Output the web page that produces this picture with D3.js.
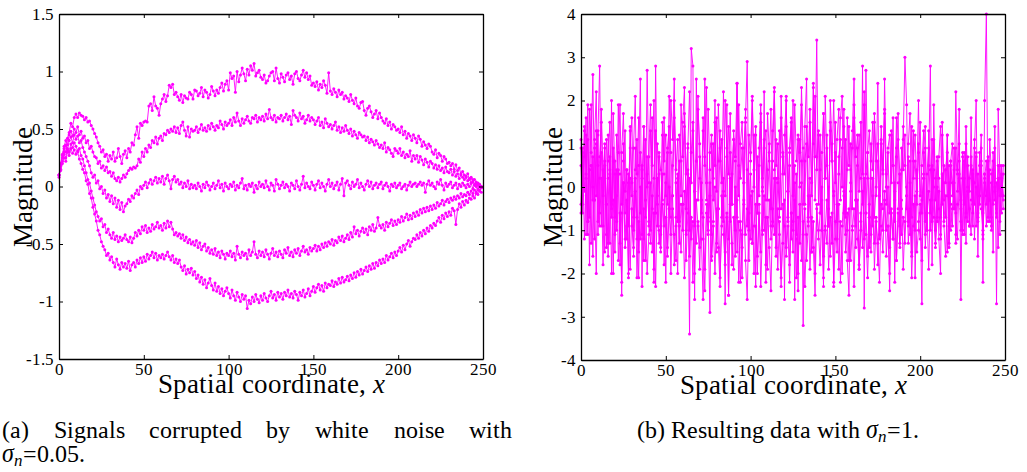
<!DOCTYPE html>
<html>
<head>
<meta charset="utf-8">
<script src="https://cdn.jsdelivr.net/npm/d3@7"></script>
<style>
@font-face { font-family: "PlotSerif"; src: local("Liberation Serif"), local("LiberationSerif"), local("LiberationSerif-Regular"); font-style: normal; }
@font-face { font-family: "PlotSerif"; src: local("Liberation Serif Italic"), local("LiberationSerif-Italic"); font-style: italic; }
body { margin: 0; background: #fff; }
</style>
</head>
<body>
<svg id="chart" width="1027" height="472"></svg>
<script>
// left panel: five signals with small noise (x = 0..249)
const sigA = [0.08,0.18,0.27,0.33,0.30,0.42,0.47,0.55,0.52,0.60,
  0.63,0.60,0.64,0.62,0.61,0.58,0.60,0.56,0.57,0.53,
  0.50,0.46,0.43,0.38,0.35,0.30,0.32,0.26,0.28,0.22,
  0.27,0.24,0.30,0.22,0.25,0.33,0.26,0.20,0.28,0.31,
  0.25,0.33,0.30,0.38,0.36,0.45,0.52,0.42,0.55,0.53,
  0.56,0.57,0.56,0.70,0.72,0.66,0.78,0.70,0.68,0.62,
  0.72,0.76,0.80,0.74,0.79,0.88,0.86,0.89,0.80,0.82,
  0.78,0.75,0.80,0.73,0.79,0.77,0.76,0.82,0.80,0.76,
  0.84,0.83,0.79,0.81,0.86,0.78,0.84,0.82,0.77,0.80,
  0.87,0.83,0.79,0.84,0.81,0.86,0.90,0.83,0.89,0.92,
  0.84,0.99,0.94,0.96,0.82,1.00,0.91,0.97,1.03,0.98,
  0.92,1.02,0.97,1.05,1.01,1.07,0.96,0.99,1.01,0.95,
  0.93,0.97,0.90,0.92,0.96,0.99,1.00,0.92,1.03,0.94,
  0.90,0.98,0.95,0.91,0.97,0.99,0.93,0.96,0.89,0.98,
  1.00,0.94,0.92,0.97,1.01,0.95,0.99,0.93,0.96,0.88,
  0.90,0.87,0.91,0.84,0.89,0.86,0.92,0.88,0.81,0.99,
  0.83,0.80,0.85,0.82,0.78,0.84,0.80,0.82,0.76,0.79,
  0.77,0.74,0.80,0.75,0.72,0.77,0.70,0.68,0.73,0.74,
  0.66,0.62,0.68,0.70,0.65,0.60,0.63,0.66,0.59,0.64,
  0.60,0.57,0.55,0.59,0.53,0.56,0.50,0.54,0.52,0.49,
  0.50,0.47,0.52,0.45,0.48,0.42,0.46,0.44,0.40,0.45,
  0.42,0.38,0.44,0.41,0.35,0.39,0.36,0.33,0.37,0.35,
  0.30,0.28,0.32,0.25,0.29,0.27,0.22,0.26,0.24,0.20,
  0.21,0.18,0.20,0.15,0.19,0.14,0.16,0.11,0.13,0.10,
  0.09,0.11,0.06,0.08,0.04,0.06,0.02,0.03,0.00,-0.01];

const sigB = [0.10,0.20,0.28,0.35,0.40,0.36,0.45,0.48,0.44,0.50,
  0.47,0.52,0.45,0.48,0.42,0.44,0.38,0.40,0.33,0.35,
  0.30,0.26,0.25,0.20,0.22,0.16,0.18,0.14,0.17,0.12,
  0.13,0.09,0.12,0.07,0.05,0.08,0.04,0.07,0.10,0.08,
  0.11,0.14,0.16,0.15,0.17,0.16,0.18,0.24,0.21,0.30,
  0.26,0.33,0.30,0.36,0.34,0.40,0.38,0.43,0.37,0.42,
  0.44,0.40,0.46,0.45,0.49,0.47,0.50,0.48,0.52,0.47,
  0.51,0.46,0.53,0.56,0.49,0.44,0.52,0.43,0.50,0.48,
  0.49,0.52,0.47,0.50,0.54,0.49,0.51,0.48,0.53,0.50,
  0.55,0.52,0.49,0.53,0.51,0.57,0.54,0.50,0.56,0.53,
  0.55,0.58,0.53,0.60,0.56,0.64,0.57,0.53,0.59,0.55,
  0.58,0.61,0.57,0.55,0.60,0.59,0.62,0.56,0.60,0.58,
  0.61,0.57,0.63,0.59,0.67,0.60,0.58,0.62,0.56,0.60,
  0.59,0.62,0.57,0.60,0.63,0.58,0.61,0.54,0.66,0.62,
  0.60,0.57,0.64,0.59,0.61,0.55,0.58,0.62,0.57,0.60,
  0.58,0.54,0.57,0.60,0.53,0.56,0.51,0.59,0.55,0.52,
  0.54,0.50,0.53,0.56,0.49,0.52,0.47,0.51,0.48,0.53,
  0.49,0.46,0.50,0.44,0.48,0.45,0.42,0.47,0.45,0.43,
  0.44,0.40,0.43,0.38,0.41,0.39,0.36,0.40,0.37,0.34,
  0.36,0.33,0.38,0.30,0.34,0.32,0.29,0.26,0.33,0.31,
  0.29,0.33,0.27,0.30,0.25,0.28,0.26,0.31,0.22,0.27,
  0.24,0.27,0.21,0.26,0.23,0.19,0.24,0.21,0.17,0.22,
  0.20,0.16,0.19,0.15,0.18,0.14,0.16,0.12,0.17,0.13,
  0.12,0.15,0.10,0.13,0.09,0.11,0.07,0.10,0.08,0.06,
  0.08,0.05,0.07,0.03,0.06,0.02,0.04,0.01,0.02,0.00];

const sigC = [0.10,0.18,0.25,0.30,0.36,0.32,0.40,0.43,0.38,0.45,
  0.41,0.44,0.38,0.40,0.34,0.30,0.26,0.22,0.18,0.12,
  0.08,0.10,0.03,0.05,-0.02,0.00,-0.06,-0.03,-0.10,-0.07,
  -0.13,-0.08,-0.15,-0.10,-0.18,-0.12,-0.20,-0.14,-0.22,-0.17,
  -0.15,-0.11,-0.13,-0.08,-0.10,-0.06,-0.03,-0.07,0.00,-0.02,
  0.01,0.04,-0.01,0.03,0.06,0.02,0.05,0.08,0.03,0.07,
  0.04,0.09,0.02,0.07,0.10,0.05,-0.02,0.06,0.09,0.04,
  0.06,0.02,0.04,-0.01,0.03,0.00,0.05,-0.02,0.02,-0.01,
  0.01,-0.02,0.03,0.00,-0.04,0.02,-0.01,0.04,0.01,-0.03,
  0.00,0.03,-0.02,0.01,0.05,-0.01,0.02,-0.04,0.03,0.00,
  -0.02,0.02,0.00,0.04,-0.03,0.01,-0.01,0.03,0.07,-0.02,
  0.01,-0.03,0.02,0.00,0.03,-0.05,0.01,-0.02,0.04,0.00,
  0.02,-0.01,0.05,0.00,-0.03,0.03,0.01,-0.04,0.06,0.02,
  -0.02,0.01,0.04,-0.01,0.02,0.00,-0.04,0.03,0.01,-0.02,
  0.05,0.00,-0.03,0.02,0.09,-0.01,0.03,0.00,-0.02,0.04,
  0.01,-0.03,0.02,0.05,-0.01,0.03,0.00,-0.04,0.02,0.06,
  0.00,0.03,-0.02,0.01,0.04,-0.03,0.02,0.07,-0.08,0.03,
  0.05,0.01,-0.02,0.04,0.00,0.02,0.06,-0.01,0.03,0.00,
  -0.03,0.02,0.05,0.00,0.04,-0.02,0.01,0.03,-0.01,0.02,
  0.04,-0.02,0.01,0.03,0.00,-0.04,0.02,0.00,0.03,-0.01,
  0.01,0.03,-0.02,0.00,0.02,-0.03,0.01,0.04,0.00,0.02,
  0.03,0.00,0.02,0.04,0.01,0.03,-0.05,0.02,0.05,0.01,
  0.03,0.00,-0.02,0.04,0.02,0.06,0.01,-0.03,0.03,0.00,
  0.02,0.04,-0.01,0.01,0.03,-0.02,0.02,0.00,0.03,0.01,
  -0.01,0.02,0.00,0.03,-0.02,0.01,0.00,-0.03,0.01,0.00];

const sigD = [0.10,0.15,0.22,0.28,0.25,0.33,0.30,0.37,0.34,0.38,
  0.35,0.31,0.33,0.27,0.24,0.18,0.12,0.06,0.03,-0.04,
  -0.10,-0.16,-0.22,-0.26,-0.30,-0.28,-0.35,-0.33,-0.40,-0.37,
  -0.42,-0.45,-0.40,-0.46,-0.43,-0.48,-0.44,-0.47,-0.45,-0.42,
  -0.46,-0.48,-0.44,-0.49,-0.45,-0.40,-0.43,-0.38,-0.41,-0.35,
  -0.38,-0.34,-0.40,-0.36,-0.39,-0.33,-0.37,-0.35,-0.31,-0.36,
  -0.34,-0.38,-0.32,-0.36,-0.30,-0.35,-0.31,-0.37,-0.42,-0.40,
  -0.43,-0.41,-0.45,-0.42,-0.47,-0.44,-0.49,-0.46,-0.50,-0.48,
  -0.51,-0.47,-0.53,-0.49,-0.55,-0.52,-0.50,-0.56,-0.53,-0.58,
  -0.55,-0.59,-0.54,-0.60,-0.57,-0.62,-0.56,-0.59,-0.63,-0.58,
  -0.60,-0.56,-0.61,-0.58,-0.64,-0.52,-0.59,-0.62,-0.57,-0.60,
  -0.58,-0.63,-0.55,-0.60,-0.57,-0.48,-0.59,-0.62,-0.56,-0.60,
  -0.57,-0.61,-0.55,-0.59,-0.63,-0.58,-0.54,-0.60,-0.57,-0.61,
  -0.56,-0.59,-0.62,-0.55,-0.58,-0.53,-0.60,-0.57,-0.61,-0.55,
  -0.58,-0.54,-0.60,-0.56,-0.52,-0.57,-0.55,-0.59,-0.53,-0.56,
  -0.54,-0.51,-0.56,-0.52,-0.55,-0.50,-0.53,-0.49,-0.52,-0.48,
  -0.50,-0.46,-0.51,-0.47,-0.49,-0.44,-0.47,-0.43,-0.48,-0.45,
  -0.42,-0.46,-0.40,-0.44,-0.35,-0.41,-0.38,-0.43,-0.39,-0.36,
  -0.40,-0.37,-0.42,-0.35,-0.38,-0.33,-0.39,-0.36,-0.27,-0.34,
  -0.36,-0.33,-0.38,-0.31,-0.35,-0.32,-0.29,-0.34,-0.30,-0.33,
  -0.29,-0.31,-0.26,-0.30,-0.27,-0.24,-0.29,-0.25,-0.28,-0.23,
  -0.26,-0.22,-0.25,-0.20,-0.23,-0.19,-0.22,-0.18,-0.21,-0.17,
  -0.20,-0.16,-0.19,-0.14,-0.17,-0.15,-0.12,-0.16,-0.13,-0.11,
  -0.14,-0.10,-0.12,-0.09,-0.11,-0.08,-0.10,-0.06,-0.09,-0.07,
  -0.08,-0.05,-0.07,-0.04,-0.06,-0.03,-0.05,-0.02,-0.03,-0.01];

const sigE = [0.10,0.14,0.20,0.25,0.22,0.30,0.27,0.33,0.29,0.32,
  0.28,0.30,0.24,0.20,0.15,0.12,0.05,0.02,-0.06,-0.10,
  -0.18,-0.24,-0.30,-0.38,-0.42,-0.48,-0.52,-0.55,-0.60,-0.58,
  -0.64,-0.61,-0.66,-0.70,-0.63,-0.68,-0.72,-0.66,-0.70,-0.67,
  -0.71,-0.65,-0.73,-0.68,-0.66,-0.70,-0.64,-0.67,-0.62,-0.66,
  -0.61,-0.65,-0.59,-0.63,-0.60,-0.57,-0.62,-0.58,-0.64,-0.60,
  -0.62,-0.59,-0.63,-0.60,-0.57,-0.61,-0.64,-0.60,-0.66,-0.63,
  -0.67,-0.64,-0.70,-0.73,-0.69,-0.76,-0.72,-0.75,-0.71,-0.77,
  -0.74,-0.80,-0.77,-0.83,-0.79,-0.85,-0.81,-0.88,-0.84,-0.80,
  -0.86,-0.90,-0.84,-0.91,-0.87,-0.93,-0.89,-0.95,-0.91,-0.88,
  -0.93,-0.97,-0.90,-0.95,-0.99,-0.92,-0.96,-1.00,-0.94,-0.98,
  -0.95,-1.06,-0.99,-1.02,-0.96,-1.00,-0.94,-0.98,-1.01,-0.95,
  -0.99,-0.93,-0.97,-1.00,-0.95,-0.91,-0.97,-0.94,-0.99,-0.92,
  -0.96,-0.93,-0.98,-0.92,-0.95,-0.90,-0.96,-0.93,-0.97,-0.91,
  -0.94,-0.99,-0.92,-0.95,-0.90,-0.96,-0.93,-0.89,-0.95,-0.91,
  -0.87,-0.92,-0.88,-0.85,-0.90,-0.86,-0.91,-0.84,-0.88,-0.85,
  -0.86,-0.82,-0.87,-0.83,-0.85,-0.80,-0.84,-0.79,-0.83,-0.81,
  -0.78,-0.82,-0.77,-0.80,-0.75,-0.79,-0.74,-0.77,-0.72,-0.76,
  -0.73,-0.70,-0.74,-0.69,-0.72,-0.67,-0.71,-0.66,-0.69,-0.64,
  -0.67,-0.63,-0.66,-0.60,-0.64,-0.61,-0.58,-0.62,-0.57,-0.60,
  -0.56,-0.53,-0.57,-0.51,-0.55,-0.50,-0.47,-0.52,-0.48,-0.45,
  -0.46,-0.42,-0.45,-0.40,-0.43,-0.38,-0.41,-0.36,-0.39,-0.34,
  -0.36,-0.32,-0.34,-0.30,-0.27,-0.31,-0.25,-0.28,-0.23,-0.26,
  -0.22,-0.25,-0.19,-0.21,-0.33,-0.20,-0.15,-0.18,-0.13,-0.16,
  -0.12,-0.14,-0.10,-0.11,-0.08,-0.10,-0.06,-0.07,-0.04,-0.05];

// right panel: the five signals after heavy noise (sigma_n = 1)
const noisy1 = [0.5,-0.4,1.3,-1.1,1.9,-1.8,0.8,2.6,-0.3,-2.0,
  1.2,2.8,-0.9,0.4,-1.5,1.1,0.2,-1.3,2.0,-2.0,
  0.6,-0.8,1.9,0.3,-2.5,1.0,-0.6,0.4,-2.1,1.3,
  -0.2,0.9,2.1,-1.2,0.5,2.5,-2.3,1.4,-0.7,2.7,
  0.1,-1.0,1.6,-2.2,2.8,-0.4,0.7,-1.4,1.2,0.3,
  -2.2,0.8,-0.5,2.0,1.1,2.5,-0.9,-2.0,0.6,-0.2,
  1.5,2.3,-1.1,0.4,-3.4,3.2,2.8,-2.6,2.5,-0.3,
  0.7,-1.2,-2.6,2.5,0.1,-0.8,-2.9,1.0,-0.3,2.0,
  -1.5,0.6,1.3,-0.7,0.2,-2.7,1.9,-2.5,0.8,-0.4,
  1.1,-1.6,2.4,0.5,-1.0,-2.1,0.9,1.6,2.9,-0.6,
  0.3,-1.3,1.2,-2.3,0.7,-0.2,1.5,-1.1,2.2,-2.2,
  0.4,1.0,-0.9,0.6,2.3,-1.4,0.1,1.3,-0.5,0.8,
  -2.6,2.1,-0.7,0.5,-1.2,2.0,-2.6,0.3,-2.4,1.1,
  0.6,-3.2,1.4,2.5,-0.8,0.2,-1.5,2.4,0.7,3.4,
  -0.4,1.2,-1.0,-2.3,2.1,0.5,-0.9,2.0,1.0,-2.3,
  0.8,-1.2,0.3,1.6,2.1,-0.6,1.1,-1.7,-2.5,0.4,
  1.3,2.5,-0.3,0.9,-1.9,-1.0,2.8,-2.8,2.7,0.2,
  -1.4,0.6,1.5,-0.7,0.0,2.4,-1.1,1.0,-0.5,2.5,
  0.3,-0.9,-2.4,1.2,0.5,-2.2,0.9,1.7,-1.3,0.4,
  1.1,3.0,1.9,-0.8,0.6,-1.5,1.3,-2.1,0.2,2.0,
  -0.6,-2.7,0.8,1.4,-1.0,0.5,2.8,-1.8,1.9,-0.3,
  0.7,-1.2,-2.0,1.5,0.1,-0.7,1.2,-1.4,0.6,1.0,
  -0.5,2.2,0.3,1.8,-2.6,0.8,-1.1,1.4,0.0,-0.9,
  1.6,-0.4,0.9,2.0,-1.6,0.5,1.2,-2.2,2.0,4.0,
  -0.8,1.1,0.3,-1.5,1.4,-2.7,1.8,0.2,-0.6,0.5];

const noisy2 = [0.9,-0.6,1.4,0.2,-1.1,1.8,0.5,-0.3,1.1,2.2,
  -0.8,0.7,1.5,-0.2,0.9,-1.4,1.2,0.4,-0.5,1.7,
  0.3,-1.0,0.8,1.9,-0.4,0.6,1.3,-1.2,0.1,0.9,
  1.6,-0.7,0.4,1.1,-1.5,0.8,0.2,1.4,-0.3,0.7,
  -0.9,1.3,0.5,2.0,-0.6,1.0,0.3,-1.1,1.5,0.6,
  1.2,-0.4,2.1,0.8,-0.2,1.6,0.4,1.1,-0.8,1.9,
  0.7,1.4,-0.5,0.9,2.2,0.1,1.3,-0.9,0.6,1.8,
  1.0,-0.3,1.6,0.5,2.3,-0.7,0.8,1.2,0.2,1.5,
  -0.1,1.9,0.6,1.1,-0.8,2.0,0.9,0.3,1.7,-0.4,
  1.3,0.7,2.4,-0.2,1.0,1.5,0.1,1.8,-0.9,1.2,
  0.6,2.1,0.4,1.4,-0.6,0.9,1.9,0.2,1.1,-0.3,
  1.7,0.8,-0.5,1.3,2.2,0.5,1.0,-0.7,1.6,0.3,
  1.2,2.0,-0.1,0.8,1.5,-0.8,1.9,0.6,1.1,0.0,
  2.3,0.9,-0.4,1.4,0.7,1.8,-0.2,1.0,2.1,0.4,
  1.3,-0.6,0.8,1.7,0.2,1.2,-0.9,1.5,0.6,2.0,
  0.1,1.1,1.8,-0.3,0.9,1.4,-0.7,1.6,0.5,1.0,
  -0.5,1.9,0.7,1.2,-0.1,1.5,0.3,2.2,-0.6,0.8,
  1.3,0.2,-0.9,1.7,0.6,1.0,-0.2,1.4,0.4,1.8,
  -0.4,0.9,1.2,0.1,1.6,-0.8,0.7,1.1,0.3,-0.5,
  1.4,0.5,-0.2,1.0,1.7,-0.7,0.6,1.2,-0.1,0.8,
  1.5,-0.6,0.3,0.9,-1.0,1.3,0.4,-0.3,1.1,0.2,
  -0.8,0.7,1.4,-0.4,0.5,0.1,1.2,-0.9,0.6,-0.2,
  0.9,-1.1,0.4,1.0,-0.5,0.2,0.8,-1.3,0.5,-0.1,
  0.7,-0.6,1.1,-0.9,0.3,-0.4,0.9,-1.2,0.2,0.6,
  -0.7,0.4,-1.0,0.8,-0.3,0.1,-1.4,0.5,-0.2,0.3];

const noisy3 = [-0.4,0.8,-1.2,0.3,1.1,-0.7,0.5,-1.6,0.9,-0.2,
  1.3,-0.9,0.2,-1.8,0.6,-0.4,-1.3,0.7,-2.0,-0.3,
  -1.1,0.4,-1.7,-0.6,-2.2,0.1,-1.4,-0.9,0.3,-1.9,
  -0.5,-1.6,0.2,-2.1,-0.8,-1.2,0.4,-1.7,-0.3,-2.0,
  -1.1,0.1,-1.5,-0.6,-2.3,-0.2,-1.3,-0.9,0.3,-1.8,
  -0.7,-1.4,0.0,-2.0,-0.5,-1.1,-1.7,0.2,-0.9,-1.5,
  -0.4,-2.1,-1.0,0.3,-1.6,-0.7,-2.2,-0.1,-1.3,-0.8,
  -1.9,-0.3,-1.2,-2.4,-0.6,-1.0,0.1,-1.7,-0.9,-2.0,
  -0.5,-1.4,-2.3,-0.2,-1.1,-1.8,-0.7,-2.5,-0.4,-1.3,
  -1.9,0.0,-1.5,-0.8,-2.2,-1.1,-0.3,-1.7,-2.6,-0.6,
  -1.2,-0.1,-2.0,-0.9,-1.6,-0.4,-2.3,-1.0,-0.2,-1.8,
  -0.7,-1.4,-2.4,-0.5,-1.1,0.2,-1.9,-0.8,-2.1,-1.3,
  -0.3,-1.6,-0.9,-2.2,-0.6,-1.5,0.1,-1.2,-2.0,-0.4,
  -1.7,-0.8,-2.3,-1.1,-0.2,-1.9,-0.7,-1.4,-2.5,-0.5,
  -1.0,-1.8,-0.3,-2.1,-0.9,-1.3,0.0,-1.6,-0.6,-2.2,
  -1.2,-0.4,-1.9,-0.8,-2.0,-0.1,-1.5,-1.0,-0.5,-1.7,
  -0.9,-2.3,-0.3,-1.2,-1.8,-0.6,-1.4,0.2,-1.1,-2.1,
  -0.7,-1.5,-0.2,-1.9,-0.8,-1.3,-2.2,-0.4,-1.0,-0.1,
  -1.6,-0.9,-2.0,-0.5,-1.2,0.1,-1.7,-0.6,-1.4,-0.3,
  -1.9,-0.8,0.0,-1.3,-0.5,-2.1,-0.9,-0.2,-1.5,-1.0,
  -0.4,-1.7,0.2,-1.1,-0.6,-1.9,-0.3,-0.8,0.4,-1.4,
  -0.7,-0.1,-1.2,0.3,-0.9,-1.6,-0.2,0.5,-1.0,-0.5,
  0.1,-1.3,-0.4,0.6,-0.8,-1.1,0.2,-0.6,0.7,-0.9,
  -0.3,0.4,-1.2,0.0,-0.7,0.8,-0.5,-1.0,0.3,-0.2,
  0.6,-0.8,0.1,-0.4,0.9,-0.6,0.2,-1.1,0.5,-0.3];

const noisy4 = [1.1,-0.2,0.7,1.6,-0.8,0.4,1.9,0.0,-1.2,1.3,
  0.5,-0.6,1.8,0.2,1.0,-1.1,0.6,1.5,-0.4,0.9,
  -0.7,1.2,0.3,-1.3,0.8,1.7,-0.1,0.4,-0.9,1.4,
  0.1,-1.0,0.9,0.3,1.6,-0.6,0.5,-1.2,1.1,0.0,
  0.7,1.9,-0.5,0.2,1.3,-0.9,0.8,0.4,-0.3,1.6,
  -0.2,0.9,1.4,-0.7,0.5,2.0,0.1,-0.8,1.2,0.6,
  -0.4,1.7,0.3,1.0,-1.0,0.8,1.5,-0.1,0.6,2.1,
  0.2,-0.6,1.3,0.7,-0.3,1.8,0.4,-1.1,1.0,0.5,
  1.6,-0.5,0.9,0.1,2.2,-0.2,0.7,1.4,-0.8,0.3,
  1.1,0.6,-0.7,1.9,0.2,0.9,-0.4,1.5,0.4,-1.0,
  0.8,2.0,0.0,1.2,-0.6,0.5,1.7,-0.1,0.9,1.3,
  -0.3,0.6,1.8,-0.9,0.4,1.1,0.2,-0.5,2.1,0.7,
  0.3,1.4,-0.8,0.9,1.6,-0.2,0.5,-1.1,1.2,0.8,
  1.9,-0.4,0.6,1.0,-0.7,1.5,0.1,2.3,-0.3,0.7,
  1.2,0.4,-1.0,1.7,0.2,0.9,-0.5,1.3,0.6,-0.2,
  1.5,-0.8,0.7,1.1,0.0,1.8,-0.6,0.4,1.4,-0.1,
  0.9,1.6,-0.9,0.5,1.2,0.2,-0.4,1.9,0.3,0.8,
  -0.7,1.0,0.4,1.5,-0.2,0.6,-1.2,1.1,0.3,1.7,
  0.0,0.8,-0.6,1.3,0.5,-0.3,1.6,0.1,-0.9,0.9,
  0.4,1.2,-0.5,0.7,-1.1,1.4,0.2,0.6,-0.4,1.0,
  -0.2,0.5,1.3,-0.8,0.3,0.9,-0.6,1.1,0.0,-1.0,
  0.6,0.2,-0.7,1.2,-0.3,0.4,0.8,-1.3,0.5,0.1,
  -0.5,0.9,-0.1,0.3,-1.0,0.7,-0.4,1.0,-0.8,0.2,
  0.5,-0.9,0.1,0.8,-0.6,-0.2,0.6,-1.1,0.3,-0.4,
  0.7,-0.3,-0.9,0.4,0.0,-0.7,0.5,-0.2,0.2,-0.5];

const noisy5 = [-0.6,0.9,-0.1,1.2,-0.8,0.4,-1.3,0.7,-0.3,1.0,
  -1.1,0.2,0.8,-0.9,0.5,-0.4,-1.6,0.3,-0.7,0.6,
  -1.5,-0.2,0.4,-1.8,-0.6,0.1,-1.2,-0.3,-2.0,0.2,
  -0.9,-1.4,-0.1,-0.7,-2.1,0.0,-1.1,-0.5,-1.7,0.3,
  -0.8,-1.3,-0.2,-1.9,-0.6,0.2,-1.0,-1.5,-0.4,-0.9,
  0.1,-1.6,-0.5,-1.1,-0.2,-1.8,-0.7,0.3,-1.3,-0.4,
  -1.0,-0.1,-1.7,-0.6,0.2,-1.2,-0.8,-2.0,-0.3,-0.9,
  -1.4,0.1,-0.7,-1.9,-0.4,-1.1,-0.2,-1.6,-0.8,0.0,
  -1.3,-0.5,-2.1,-0.9,-0.1,-1.5,-0.6,-1.2,0.2,-1.8,
  -0.7,-1.0,-0.3,-2.2,-0.8,-1.4,0.1,-1.1,-0.5,-1.7,
  -0.2,-1.3,-0.9,-0.4,-2.0,-0.6,-1.5,0.0,-1.0,-0.7,
  -1.9,-0.3,-1.2,-0.8,0.2,-1.6,-0.5,-1.1,-2.3,-0.4,
  -0.9,-1.4,-0.1,-1.8,-0.6,-1.0,-0.3,-2.1,-0.7,-1.3,
  0.1,-1.1,-0.5,-1.7,-0.9,-0.2,-1.5,-0.8,-2.0,-0.4,
  -1.2,-0.6,0.0,-1.6,-1.0,-0.3,-1.9,-0.7,-1.3,-0.1,
  -0.8,-1.5,-0.4,-2.2,-0.9,-0.2,-1.1,-0.6,-1.7,0.1,
  -1.0,-0.5,-1.4,-0.3,-1.9,-0.8,-0.1,-1.2,-0.6,-1.6,
  -0.4,-1.1,0.2,-1.3,-0.7,-1.8,-0.2,-0.9,-1.5,-0.3,
  -1.0,0.0,-1.4,-0.6,-1.2,-0.1,-1.7,-0.5,0.3,-1.1,
  -0.7,-1.3,-0.2,-0.9,0.1,-1.6,-0.4,-1.0,0.4,-0.8,
  -1.2,-0.3,0.2,-1.4,-0.6,-0.1,-1.0,0.5,-0.7,-1.3,
  0.0,-0.5,-1.1,0.3,-0.8,-0.2,-1.5,0.1,-0.4,-0.9,
  0.4,-0.6,-1.2,0.2,-0.3,-1.0,0.6,-0.7,-0.1,-0.5,
  -1.1,0.3,-0.4,0.7,-0.8,-0.2,0.5,-0.6,0.1,-0.9,
  0.4,-0.3,-0.7,0.6,-0.1,-0.5,0.2,-0.8,0.3,-0.2];

const xTicks = [0, 50, 100, 150, 200, 250];
const yTicksLeft = [-1.5, -1, -0.5, 0, 0.5, 1, 1.5];
const yTicksRight = [-4, -3, -2, -1, 0, 1, 2, 3, 4];
const captionWords = ["(a)", "Signals", "corrupted", "by", "white", "noise", "with"];
const captionWordX = [2, 54, 149, 266, 315, 394, 469];

const serif = "PlotSerif, 'Liberation Serif', serif";
const svg = d3.select("#chart");
const magenta = "#ff00ff";

function serifText(sel, size) {
    return sel.attr("font-family", serif)
        .attr("font-size", size)
        .style("font-family", serif)
        .style("font-size", size + "px");
}

function drawPanel(left, top, w, h, series, yDomain, yTicks, ylabX) {
    var g = svg.append("g").attr("transform", "translate(" + left + "," + top + ")");
    var x = d3.scaleLinear().domain([0, 250]).range([0, w]);
    var y = d3.scaleLinear().domain(yDomain).range([h, 0]);

    var line = d3.line()
        .x(function(d, i) { return x(i); })
        .y(function(d) { return y(d); });

    series.forEach(function(s) {
        g.append("path")
            .datum(s)
            .attr("d", line)
            .attr("fill", "none")
            .attr("stroke", magenta)
            .attr("stroke-width", 0.9);
        g.append("g").selectAll("circle")
            .data(s)
            .enter()
            .append("circle")
            .attr("cx", function(d, i) { return x(i); })
            .attr("cy", function(d) { return y(d); })
            .attr("r", 1.5)
            .attr("fill", magenta);
    });

    // axes with inward ticks on all four sides
    var fmt = function(d) { return String(d); };
    var axes = [
        g.append("g").attr("transform", "translate(0," + h + ")")
            .call(d3.axisBottom(x).tickValues(xTicks).tickFormat(fmt).tickSizeInner(-4).tickSizeOuter(0).tickPadding(4)),
        g.append("g")
            .call(d3.axisTop(x).tickValues(xTicks).tickFormat("").tickSizeInner(-4).tickSizeOuter(0)),
        g.append("g")
            .call(d3.axisLeft(y).tickValues(yTicks).tickFormat(fmt).tickSizeInner(-4).tickSizeOuter(0).tickPadding(5)),
        g.append("g").attr("transform", "translate(" + w + ",0)")
            .call(d3.axisRight(y).tickValues(yTicks).tickFormat("").tickSizeInner(-4).tickSizeOuter(0))
    ];
    axes.forEach(function(a) {
        a.attr("font-family", serif).attr("font-size", 17);
        a.select(".domain").attr("stroke", "#000").attr("stroke-width", 1.3);
        a.selectAll(".tick line").attr("stroke", "#000");
        serifText(a.selectAll(".tick text"), 17).attr("fill", "#000");
    });

    // axis titles
    var xl = serifText(g.append("text"), 27)
        .attr("x", w / 2)
        .attr("y", h + 34)
        .attr("text-anchor", "middle");
    xl.append("tspan").text("Spatial coordinate, ");
    xl.append("tspan").attr("font-style", "italic").text("x");

    serifText(g.append("text"), 27)
        .attr("transform", "translate(" + (ylabX - left) + "," + (h / 2) + ") rotate(-90)")
        .attr("text-anchor", "middle")
        .text("Magnitude");
}

drawPanel(59, 14, 424, 345, [sigA, sigB, sigC, sigD, sigE], [-1.5, 1.5], yTicksLeft, 32);
drawPanel(581, 14, 424, 346, [noisy1, noisy2, noisy3, noisy4, noisy5], [-4, 4], yTicksRight, 562);

// captions
serifText(svg.append("g").selectAll("text")
    .data(captionWords)
    .enter()
    .append("text"), 24)
    .attr("x", function(d, i) { return captionWordX[i]; })
    .attr("y", 438)
    .text(function(d) { return d; });

var l2 = serifText(svg.append("text"), 24).attr("x", 2).attr("y", 462);
l2.append("tspan").attr("font-style", "italic").text("σ");
l2.append("tspan").attr("font-style", "italic").attr("font-size", 17).style("font-size", "17px").attr("dy", 4).text("n");
l2.append("tspan").attr("dy", -4).text("=0.05.");

var c2 = serifText(svg.append("text"), 24).attr("x", 778).attr("y", 438).attr("text-anchor", "middle");
c2.append("tspan").text("(b) Resulting data with ");
c2.append("tspan").attr("font-style", "italic").text("σ");
c2.append("tspan").attr("font-style", "italic").attr("font-size", 17).style("font-size", "17px").attr("dy", 4).text("n");
c2.append("tspan").attr("dy", -4).text("=1.");

// re-apply the serif face once the declared font faces are ready
if (document.fonts && document.fonts.ready) {
    document.fonts.ready.then(function() {
        svg.selectAll("text").style("font-family", serif);
    });
}
</script>
</body>
</html>
